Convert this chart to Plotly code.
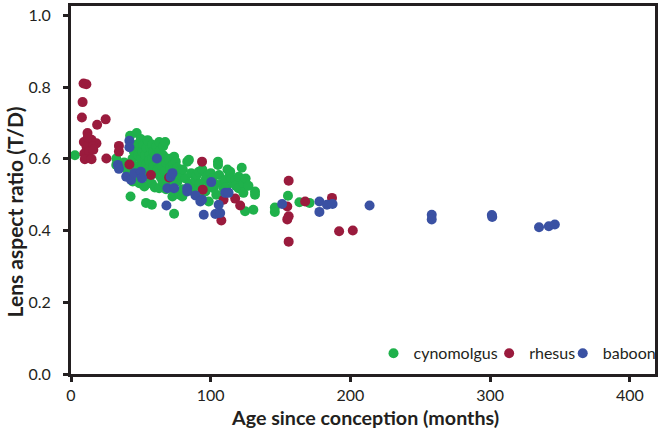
import plotly.graph_objects as go

# Age since conception (months) and lens aspect ratio (T/D)
cyno_age = [2.8, 32.4, 32.4, 36, 38, 40, 42.3, 42.6, 44, 44.2, 45, 46, 46, 47, 47, 48, 48, 48.9,
            49, 50, 50, 51, 51, 52, 52, 52.5, 53, 53, 53.7, 54, 54, 54.8, 55, 55, 56, 56, 56,
            57, 57, 57.9, 58, 58, 58, 59, 59, 60, 60, 60, 61, 62, 62, 63, 63.1, 63.1, 64, 64,
            65, 65.5, 66, 66, 67, 67.4, 68, 68, 69, 70, 70, 71, 72, 72.6, 73, 73.8, 73.8, 74,
            75, 76, 76.2, 77.8, 78.5, 79.7, 79.7, 80, 80, 82, 83.2, 84.4, 85, 86, 87, 88, 89.1,
            90, 91.5, 92, 93, 94, 96.2, 96.2, 97, 98.6, 99, 100, 101, 102.1, 103, 104, 105.2,
            105.2, 106, 108, 109.2, 110.4, 111, 112, 113.5, 114, 115, 116.3, 117.5, 118, 119.9,
            120, 122.2, 123.4, 123.4, 124.6, 125, 127, 130.5, 131.7, 131.7, 145.9, 145.9, 155.3,
            163.5, 170.7]
cyno_ratio = [0.610, 0.601, 0.583, 0.580, 0.590, 0.570, 0.664, 0.495, 0.600, 0.537, 0.620, 0.580,
              0.555, 0.640, 0.672, 0.610, 0.570, 0.532, 0.630, 0.600, 0.655, 0.580, 0.620, 0.640,
              0.560, 0.523, 0.600, 0.610, 0.477, 0.630, 0.585, 0.652, 0.650, 0.570, 0.610, 0.595,
              0.545, 0.630, 0.555, 0.472, 0.600, 0.640, 0.530, 0.580, 0.620, 0.560, 0.610, 0.520,
              0.635, 0.590, 0.570, 0.620, 0.647, 0.518, 0.600, 0.550, 0.580, 0.537, 0.610, 0.635,
              0.565, 0.647, 0.590, 0.515, 0.550, 0.600, 0.525, 0.575, 0.545, 0.495, 0.585, 0.606,
              0.447, 0.560, 0.592, 0.575, 0.537, 0.500, 0.569, 0.550, 0.495, 0.570, 0.515, 0.545,
              0.592, 0.597, 0.530, 0.560, 0.510, 0.520, 0.541, 0.555, 0.564, 0.530, 0.500, 0.570,
              0.541, 0.509, 0.550, 0.481, 0.525, 0.560, 0.545, 0.518, 0.530, 0.500, 0.592, 0.583,
              0.555, 0.530, 0.518, 0.541, 0.520, 0.570, 0.555, 0.564, 0.545, 0.532, 0.541, 0.525,
              0.518, 0.550, 0.575, 0.532, 0.505, 0.454, 0.545, 0.525, 0.458, 0.509, 0.500, 0.464,
              0.452, 0.497, 0.479, 0.477]

rhesus_age = [9, 11, 8.3, 7.8, 18.7, 24.8, 11.8, 9.2, 14.7, 18.2, 11.1, 15.8, 9.5, 13, 9.9, 14.7,
              25.3, 12, 16, 34.3, 34.3, 41.8, 57.2, 70.2, 93.8, 94.3, 109.2, 107.6, 117.5, 121.1,
              155.8, 154.8, 155.8, 154.8, 155.8, 167.6, 186.8, 191.9, 201.7]
rhesus_ratio = [0.810, 0.808, 0.758, 0.715, 0.695, 0.710, 0.672, 0.647, 0.653, 0.643, 0.634, 0.634,
                0.615, 0.620, 0.599, 0.599, 0.601, 0.660, 0.625, 0.636, 0.620, 0.584, 0.555, 0.548,
                0.592, 0.514, 0.486, 0.428, 0.489, 0.470, 0.539, 0.467, 0.440, 0.431, 0.369, 0.481,
                0.491, 0.398, 0.400]

baboon_age = [41.8, 41.8, 33.5, 34.3, 39.5, 43, 45.4, 50, 50.8, 61.5, 71.3, 72.6, 69, 73.8, 68.3,
              83.2, 83.2, 89.1, 93.8, 92.6, 100.4, 95, 103.3, 106.8, 105.7, 110.4, 112.8, 151.1,
              177.8, 177.8, 183.2, 187.2, 213.7, 258.2, 258.2, 301.2, 301.5, 335, 342, 346.3]
baboon_ratio = [0.650, 0.632, 0.583, 0.572, 0.550, 0.541, 0.560, 0.564, 0.546, 0.601, 0.550, 0.560,
                0.518, 0.518, 0.470, 0.518, 0.509, 0.498, 0.486, 0.481, 0.535, 0.444, 0.446, 0.449,
                0.472, 0.505, 0.505, 0.474, 0.481, 0.452, 0.472, 0.474, 0.470, 0.444, 0.431, 0.443,
                0.438, 0.409, 0.412, 0.417]

ink = "#231f20"
font = "Lato, 'Open Sans', sans-serif"

fig = go.Figure()
series = [
    ("cynomolgus", cyno_age, cyno_ratio, "#1fb14b", "legend"),
    ("rhesus", rhesus_age, rhesus_ratio, "#9a1b3d", "legend2"),
    ("baboon", baboon_age, baboon_ratio, "#3a51a3", "legend3"),
]
for name, xs, ys, color, leg in series:
    fig.add_trace(go.Scatter(x=xs, y=ys, mode="markers", name=name, legend=leg,
                             marker=dict(color=color, size=10, line=dict(width=0))))

axis_style = dict(showline=True, linecolor=ink, linewidth=3, mirror=True,
                  ticks="outside", ticklen=5, tickwidth=3, tickcolor=ink,
                  showgrid=False, zeroline=False,
                  tickfont=dict(family=font, size=16, color=ink))

# one small legend per species so the entries sit close together like the original
legend_style = dict(orientation="h", xanchor="left", y=0.01, yanchor="bottom",
                    bgcolor="rgba(0,0,0,0)", itemwidth=30,
                    font=dict(family=font, size=16, color=ink))

fig.update_layout(
    width=664, height=432,
    margin=dict(l=71, r=4, t=3, b=58),
    plot_bgcolor="white", paper_bgcolor="white",
    showlegend=True,
    xaxis=dict(range=[0, 418], tickvals=[0, 100, 200, 300, 400], **axis_style),
    yaxis=dict(range=[0, 1.026], tickvals=[0, 0.2, 0.4, 0.6, 0.8, 1.0], tickformat=".1f",
               ticklabelstandoff=9, **axis_style),
    legend=dict(x=0.518, **legend_style),
    legend2=dict(x=0.716, **legend_style),
    legend3=dict(x=0.842, **legend_style),
    annotations=[
        dict(text="<b>Age since conception (months)</b>", xref="paper", yref="paper",
             x=0.503, y=-0.118, xanchor="center", yanchor="middle", showarrow=False,
             font=dict(family=font, size=19.7, color=ink)),
        dict(text="<b>Lens aspect ratio (T/D)</b>", xref="paper", yref="paper",
             x=-0.097, y=0.44, xanchor="center", yanchor="middle", showarrow=False,
             textangle=-90, font=dict(family=font, size=21, color=ink)),
    ],
)

# page body has a default 8px margin; drop it so the figure sits at the window corner
fig.write_html("out.html", config={"displayModeBar": False},
               post_script="document.body.style.margin='0';")
